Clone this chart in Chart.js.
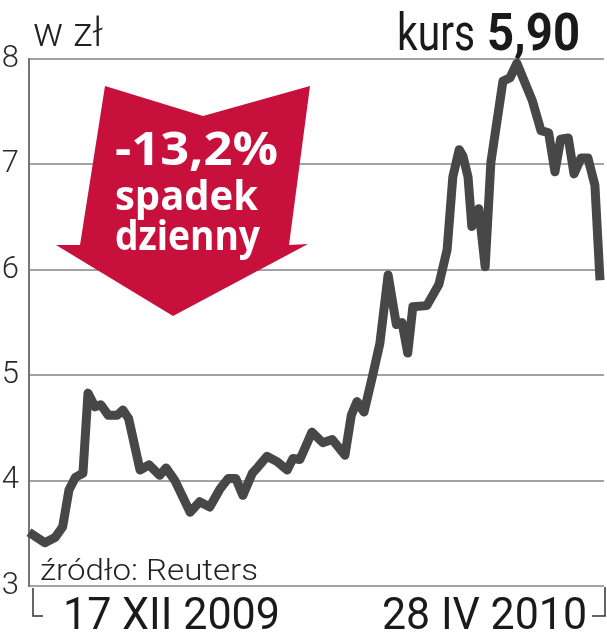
<!DOCTYPE html>
<html lang="pl">
<head>
<meta charset="utf-8">
<title>kurs 5,90</title>
<script src="https://cdn.jsdelivr.net/npm/chart.js@4.4.1/dist/chart.umd.min.js"></script>
<style>
  html, body { margin: 0; padding: 0; background: #fff; }
  #wrap { width: 607px; height: 640px; }
</style>
</head>
<body>
<div id="wrap"><canvas id="wykres" width="607" height="640"></canvas></div>
<script>
// numer sesji liczony od 17 XII 2009 (0) do 28 IV 2010 (90)
var sesje = [0, 2.5, 4.1, 5.3, 6.3, 7.3, 8.5, 9.3, 10.4, 11.3, 12.5, 13.9, 14.8, 15.7,
    17.5, 18.9, 20.6, 21.6, 23.0, 25.4, 26.9, 28.5, 30.1, 31.4, 32.6, 33.7, 35.2,
    36.1, 37.5, 39.1, 40.7, 41.6, 42.7, 44.6, 46.3, 47.8, 49.8, 50.8, 51.7, 52.8,
    54.1, 55.3, 56.6, 57.9, 58.8, 59.7, 60.5, 62.7, 64.6, 65.9, 66.8, 67.8, 68.4,
    69.2, 69.8, 70.9, 71.9, 72.8, 74.7, 75.8, 76.9, 79.3, 80.7, 81.9, 82.9, 83.8,
    85.0, 85.9, 87.0, 88.1, 89.2, 90.0];
// kurs zamkniecia w zl
var kurs = [3.51, 3.41, 3.46, 3.56, 3.91, 4.03, 4.07, 4.83, 4.70, 4.72, 4.62, 4.62, 4.67, 4.59,
    4.10, 4.15, 4.05, 4.12, 4.00, 3.70, 3.80, 3.75, 3.92, 4.02, 4.02, 3.86, 4.07,
    4.13, 4.23, 4.18, 4.10, 4.21, 4.20, 4.46, 4.36, 4.39, 4.24, 4.62, 4.75, 4.65,
    4.98, 5.30, 5.95, 5.48, 5.50, 5.21, 5.65, 5.66, 5.86, 6.19, 6.88, 7.14, 7.08,
    6.88, 6.41, 6.58, 6.03, 7.02, 7.79, 7.82, 7.96, 7.61, 7.32, 7.30, 6.93, 7.24,
    7.25, 6.91, 7.06, 7.06, 6.80, 5.90];
// podzialka osi Y
var skalaY = [3, 4, 5, 6, 7, 8];

var dataStart = '17 XII 2009';
var dataKoniec = '28 IV 2010';
var jednostka = 'w zł';
var ostatniKurs = '5,90';
var zmiana = '-13,2%';
var opisZmiany = ['spadek', 'dzienny'];
var zrodlo = 'źródło: Reuters';

// pisze tekst sciskajac go do zadanej szerokosci
function pisz(ctx, txt, x, y, w, font, color) {
    ctx.save();
    ctx.font = font;
    ctx.fillStyle = color;
    ctx.textAlign = 'left';
    ctx.textBaseline = 'alphabetic';
    var sx = w / ctx.measureText(txt).width;
    ctx.translate(x, y);
    ctx.scale(sx, 1);
    ctx.fillText(txt, 0, 0);
    ctx.restore();
}

// czerwona strzalka ze spadkiem
var strzalka = {
    id: 'strzalka',
    beforeDatasetsDraw: function (chart) {
        var ctx = chart.ctx;
        var pkt = [[105, 86], [203, 116], [310, 86], [289, 245], [308, 244],
            [173, 316], [56, 245], [80, 245]];
        ctx.save();
        ctx.fillStyle = '#c8103c';
        ctx.beginPath();
        pkt.forEach(function (p, i) {
            if (i === 0) ctx.moveTo(p[0], p[1]); else ctx.lineTo(p[0], p[1]);
        });
        ctx.closePath();
        ctx.fill();
        ctx.restore();

        pisz(ctx, zmiana, 115, 165, 163, 'bold 46px "Open Sans"', '#fff');
        pisz(ctx, opisZmiany[0], 115, 210, 143, 'bold 41px "Open Sans"', '#fff');
        pisz(ctx, opisZmiany[1], 115, 250, 145, 'bold 41px "Open Sans"', '#fff');
    }
};

// napisy i klamry pod osia
var opisy = {
    id: 'opisy',
    afterDraw: function (chart) {
        var ctx = chart.ctx;
        pisz(ctx, jednostka, 33, 46, 70, '300 40px Roboto', '#222');
        pisz(ctx, 'kurs', 397, 50, 78, '400 52px Roboto', '#1a1a1a');
        pisz(ctx, ostatniKurs, 487, 50, 93, 'bold 52px Roboto', '#1a1a1a');
        pisz(ctx, zrodlo, 40, 580, 218, '300 30px Roboto', '#222');
        pisz(ctx, dataStart, 63, 629, 217, '400 44px Roboto', '#1a1a1a');
        pisz(ctx, dataKoniec, 382, 629, 205, '400 44px Roboto', '#1a1a1a');

        ctx.save();
        ctx.strokeStyle = '#333';
        ctx.lineWidth = 1.5;
        ctx.beginPath();
        ctx.moveTo(33, 588);
        ctx.lineTo(33, 616);
        ctx.lineTo(43, 616);
        ctx.moveTo(605, 587);
        ctx.lineTo(605, 616);
        ctx.lineTo(592, 616);
        ctx.stroke();
        ctx.restore();
    }
};

var punkty = sesje.map(function (s, i) {
    return {x: s, y: kurs[i]};
});

var chart = new Chart(document.getElementById('wykres').getContext('2d'), {
    type: 'line',
    data: {
        datasets: [{
            data: punkty,
            borderColor: '#474747',
            borderWidth: 9,
            borderJoinStyle: 'round',
            pointRadius: 0,
            tension: 0,
            clip: false
        }]
    },
    options: {
        responsive: false,
        animation: false,
        events: [],
        layout: {padding: {left: 0, top: 59, right: 3, bottom: 54}},
        scales: {
            x: {type: 'linear', min: 0, max: 90.63, display: false},
            y: {
                min: 3,
                max: 8,
                afterBuildTicks: function (scale) {
                    scale.ticks = skalaY.map(function (v) { return {value: v}; });
                },
                afterFit: function (scale) {
                    scale.width = 29;
                },
                ticks: {
                    padding: 10,
                    color: '#2a2a2a',
                    font: {family: 'Roboto', size: 31, weight: '300'}
                },
                grid: {color: '#a3a3a3', lineWidth: 2, drawTicks: false},
                border: {color: '#777', width: 2}
            }
        },
        plugins: {
            legend: {display: false},
            tooltip: {enabled: false}
        }
    },
    plugins: [strzalka, opisy]
});
</script>
</body>
</html>
